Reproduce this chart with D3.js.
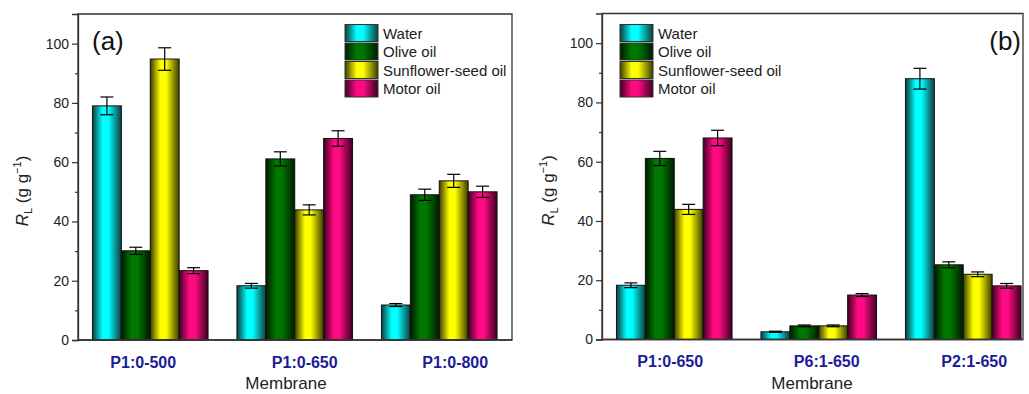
<!DOCTYPE html>
<html>
<head>
<meta charset="utf-8">
<script src="https://cdn.jsdelivr.net/npm/d3@7"></script>
<style>
  body { margin: 0; background: #fff; }
  svg { display: block; font-family: "Liberation Sans", Arial, sans-serif; }
</style>
</head>
<body>
<svg id="chart" width="1029" height="394"></svg>
<script>
// ---------------- data ----------------
const seriesNames = ["Water", "Olive oil", "Sunflower-seed oil", "Motor oil"];
const yTicks = [0, 20, 40, 60, 80, 100];
const yMinorTicks = [10, 30, 50, 70, 90];

// panel (a)
const categoriesA = ["P1:0-500", "P1:0-650", "P1:0-800"];
const waterA      = [79.0, 18.3, 11.8];
const oliveA      = [30.1, 61.1, 49.0];
const sunflowerA  = [94.8, 43.9, 53.7];
const motorA      = [23.4, 68.0, 50.0];
const waterErrA     = [3.0, 0.8, 0.5];
const oliveErrA     = [1.2, 2.4, 1.9];
const sunflowerErrA = [3.8, 1.7, 2.2];
const motorErrA     = [1.0, 2.6, 1.9];

// panel (b)
const categoriesB = ["P1:0-650", "P6:1-650", "P2:1-650"];
const waterB      = [18.3, 2.6, 88.0];
const oliveB      = [61.1, 4.6, 25.2];
const sunflowerB  = [43.9, 4.6, 22.0];
const motorB      = [68.0, 15.0, 18.1];
const waterErrB     = [0.8, 0.2, 3.5];
const oliveErrB     = [2.4, 0.3, 1.0];
const sunflowerErrB = [1.7, 0.3, 0.8];
const motorErrB     = [2.6, 0.5, 0.8];

// ---------------- styling ----------------
const palette = [
  { bright: "#00ffff", dark: "#0e3c3c" },
  { bright: "#007800", dark: "#001a00" },
  { bright: "#ffff00", dark: "#3c3c00" },
  { bright: "#ff0a82", dark: "#3c0020" }
];

const svg = d3.select("#chart");
const defs = svg.append("defs");
palette.forEach((c, i) => {
  const g = defs.append("linearGradient").attr("id", "grad" + i)
    .attr("x1", "0%").attr("x2", "100%").attr("y1", "0%").attr("y2", "0%");
  g.append("stop").attr("offset", "0%").attr("stop-color", c.dark);
  g.append("stop").attr("offset", "35%").attr("stop-color", c.bright);
  g.append("stop").attr("offset", "55%").attr("stop-color", c.bright);
  g.append("stop").attr("offset", "100%").attr("stop-color", c.dark);
});

function drawPanel(cfg) {
  const { categories, values, errors, x0, x1, frameRight, yBottom, yTop,
          tag, tagX, tagAnchor, legendX, labelNudge, yLabelX, membraneX } = cfg;

  const x = d3.scaleBand().domain(categories).range([x0, x1])
    .paddingInner(0.2).paddingOuter(0.1);
  const xs = d3.scaleBand().domain(seriesNames).range([0, x.bandwidth()]).padding(0);
  const y = d3.scaleLinear().domain([0, 110]).range([yBottom, yTop]);

  const g = svg.append("g");

  // bars
  seriesNames.forEach((s, si) => {
    categories.forEach((c, ci) => {
      const v = values[si][ci];
      g.append("rect")
        .attr("x", x(c) + xs(s))
        .attr("y", y(v))
        .attr("width", xs.bandwidth())
        .attr("height", y(0) - y(v))
        .attr("fill", `url(#grad${si})`)
        .attr("stroke", "#111")
        .attr("stroke-width", 1);
    });
  });

  // error bars
  seriesNames.forEach((s, si) => {
    categories.forEach((c, ci) => {
      const v = values[si][ci], e = errors[si][ci];
      const cx = x(c) + xs(s) + xs.bandwidth() / 2;
      const eg = g.append("g").attr("stroke", "#000").attr("stroke-width", 1.2);
      eg.append("line").attr("x1", cx).attr("x2", cx).attr("y1", y(v - e)).attr("y2", y(v + e));
      [v - e, v + e].forEach(val => {
        eg.append("line").attr("x1", cx - 6.5).attr("x2", cx + 6.5)
          .attr("y1", y(val)).attr("y2", y(val));
      });
    });
  });

  // frame
  g.append("path")
    .attr("d", `M${x0},${yBottom} L${x0},${yTop} L${frameRight},${yTop} L${frameRight},${yBottom} Z`)
    .attr("fill", "none").attr("stroke", "#333").attr("stroke-width", 1.3);

  // y axis
  const yAxis = d3.axisLeft(y).tickValues(yTicks).tickSize(6).tickPadding(3);
  const ya = g.append("g").attr("transform", `translate(${x0},0)`).call(yAxis);
  ya.select(".domain").attr("stroke", "#333").attr("stroke-width", 1.3);
  ya.selectAll(".tick line").attr("stroke", "#333").attr("stroke-width", 1.2);
  ya.selectAll(".tick text").attr("font-size", 14).attr("fill", "#222")
    .attr("font-family", "Liberation Sans, Arial, sans-serif");
  const yMinor = d3.axisLeft(y).tickValues(yMinorTicks).tickSize(3).tickFormat("");
  const ym = g.append("g").attr("transform", `translate(${x0},0)`).call(yMinor);
  ym.select(".domain").remove();
  ym.selectAll(".tick line").attr("stroke", "#333").attr("stroke-width", 1.2);

  // x axis labels
  const xAxis = d3.axisBottom(x).tickSize(0).tickPadding(0);
  const xa = g.append("g").attr("transform", `translate(0,${yBottom})`).call(xAxis);
  xa.select(".domain").remove();
  xa.selectAll(".tick text")
    .attr("font-size", 16).attr("font-weight", "bold").attr("fill", "#1c1c9a")
    .attr("font-family", "Liberation Sans, Arial, sans-serif")
    .attr("dy", null).attr("y", 27.5)
    .attr("transform", (d, i) => `translate(${labelNudge[i]},0)`);

  // bottom axis line
  g.append("line").attr("x1", x0).attr("x2", frameRight)
    .attr("y1", yBottom).attr("y2", yBottom)
    .attr("stroke", "#333").attr("stroke-width", 1.6);

  // axis titles
  g.append("text").attr("x", membraneX).attr("y", 389)
    .attr("text-anchor", "middle").attr("font-size", 17).attr("fill", "#222")
    .text("Membrane");

  const yl = g.append("text")
    .attr("transform", `translate(${yLabelX},${(yBottom + yTop) / 2 + 14}) rotate(-90)`)
    .attr("text-anchor", "middle").attr("font-size", 17).attr("fill", "#222");
  yl.append("tspan").attr("font-style", "italic").text("R");
  yl.append("tspan").attr("font-size", 11).attr("dy", 4).text("L");
  yl.append("tspan").attr("dy", -4).text(" (g g");
  yl.append("tspan").attr("font-size", 11).attr("dy", -7).text("\u22121");
  yl.append("tspan").attr("dy", 7).text(")");

  // panel tag
  g.append("text").attr("x", tagX).attr("y", 50).attr("text-anchor", tagAnchor)
    .attr("font-size", 26).attr("fill", "#111").text(tag);

  // legend
  const lg = g.append("g");
  seriesNames.forEach((s, si) => {
    const ly = 24.5 + si * 18.5;
    lg.append("rect").attr("x", legendX).attr("y", ly).attr("width", 33).attr("height", 17)
      .attr("fill", `url(#grad${si})`).attr("stroke", "#333").attr("stroke-width", 1);
    lg.append("text").attr("x", legendX + 38).attr("y", ly + 14)
      .attr("font-size", 15).attr("fill", "#222").text(s);
  });
}

drawPanel({
  categories: categoriesA,
  values: [waterA, oliveA, sunflowerA, motorA],
  errors: [waterErrA, oliveErrA, sunflowerErrA, motorErrA],
  x0: 78, x1: 511.5, frameRight: 512, yBottom: 340, yTop: 14,
  tag: "(a)", tagX: 92, tagAnchor: "start", legendX: 345,
  labelNudge: [-7, 10, 16], yLabelX: 28, membraneX: 286
});

drawPanel({
  categories: categoriesB,
  values: [waterB, oliveB, sunflowerB, motorB],
  errors: [waterErrB, oliveErrB, sunflowerErrB, motorErrB],
  x0: 602, x1: 1035.5, frameRight: 1023, yBottom: 339.5, yTop: 13.5,
  tag: "(b)", tagX: 1021, tagAnchor: "end", legendX: 620,
  labelNudge: [-4, 8, 11], yLabelX: 554, membraneX: 812
});
</script>
</body>
</html>
